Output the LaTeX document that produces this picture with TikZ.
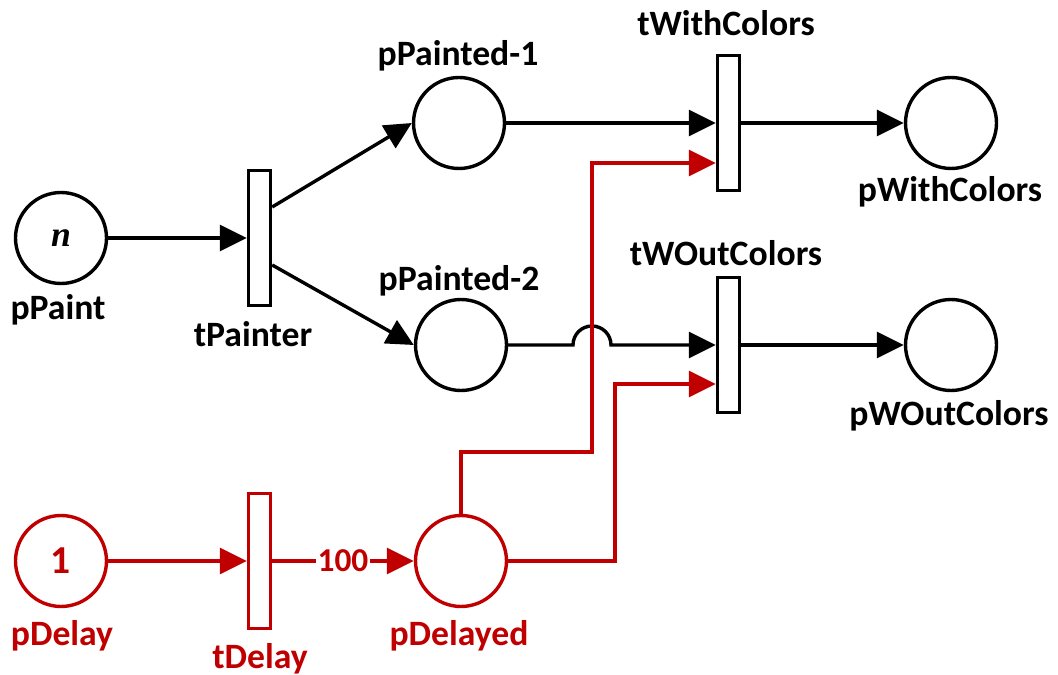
\documentclass[tikz,border=0pt]{standalone}
\usepackage{fontspec}
\setmainfont{Carlito}
\newfontfamily\tokenfont{Liberation Serif}
\usepackage{tikz}
\usetikzlibrary{positioning,arrows.meta,calc}
\definecolor{delayred}{RGB}{192,0,0}

\begin{document}
\begin{tikzpicture}[
  x=0.02cm, y=-0.02cm,
  line width=0.068cm,
  place/.style={draw, circle, minimum size=1.82cm, inner sep=0pt, font=\fontsize{20.3}{24}\selectfont\bfseries},
  trans/.style={draw, rectangle, minimum width=0.44cm, minimum height=2.7cm, inner sep=0pt},
  lbl/.style={anchor=base, inner sep=0pt, font=\fontsize{20.3}{24}\selectfont\bfseries},
  flow/.style={-{Triangle[length=0.54cm, width=0.52cm]}},
  delay/.style={delayred, text=delayred}
]
\useasboundingbox (0,0) rectangle (1058,675);

\node[place] (pPaint) at (61,238) {\tokenfont\itshape n};
\node[lbl] at (58,320) {pPaint};
\node[trans] (tPainter) at (259.5,238) {};
\node[lbl] at (253,347) {tPainter};
\draw[flow] (pPaint) -- (tPainter);

\node[place] (pPainted1) at (459,123) {};
\node[lbl] at (458,66) {pPainted-1};
\node[place] (pPainted2) at (461,345) {};
\node[lbl] at (459,291) {pPainted-2};
\draw[flow] ($(tPainter.east)+(0,-31)$) -- (pPainted1.west);
\draw[flow] ($(tPainter.east)+(0,27)$) -- (pPainted2.west);

\node[trans] (tWith) at (728.5,123) {};
\node[lbl] at (726,36) {tWithColors};
\node[place] (pWith) at (951,123) {};
\node[lbl] at (950,202) {pWithColors};
\draw[flow] (pPainted1) -- (tWith);
\draw[flow] (tWith) -- (pWith);

\node[trans] (tWOut) at (728.5,345) {};
\node[lbl] at (726,266) {tWOutColors};
\node[place] (pWOut) at (951,345) {};
\node[lbl] at (949,425) {pWOutColors};
% jump over the red line
\draw[flow] (pPainted2.east) -- (573,345) arc[start angle=180, end angle=0, radius=0.38cm] -- (tWOut.west);
\draw[flow] (tWOut) -- (pWOut);

% delay part
\begin{scope}[delay]
\node[place, font=\fontsize{22.5}{26}\selectfont\bfseries] (pDelay) at (61,561) {1};
\node[lbl] at (62,645) {pDelay};
\node[trans] (tDelay) at (259.5,561) {};
\node[lbl] at (260,668) {tDelay};
\node[place] (pDelayed) at (461,561) {};
\node[lbl] at (459,645) {pDelayed};
\draw[flow] (pDelay) -- (tDelay);
\draw[flow] (tDelay) -- node[fill=white, inner sep=1pt, font=\fontsize{19}{22}\selectfont\bfseries] {100} (pDelayed);
\draw[flow] (pDelayed.north) |- (592,452) |- ($(tWith.west)+(0,40)$);
\draw[flow] (pDelayed.east) -| (615,384) -- ($(tWOut.west)+(0,39)$);
\end{scope}
\end{tikzpicture}
\end{document}
